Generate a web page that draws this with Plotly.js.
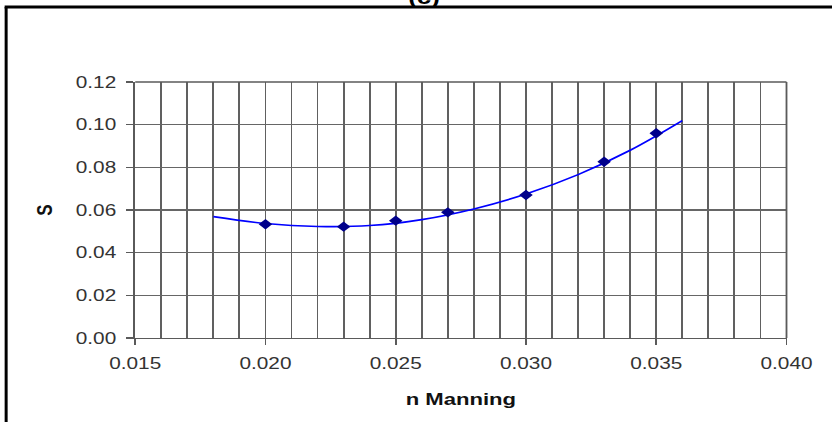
<!DOCTYPE html>
<html>
<head>
<meta charset="utf-8">
<script src="https://cdn.plot.ly/plotly-3.0.1.min.js"></script>
<style>
html,body{margin:0;padding:0;background:#fff;overflow:hidden;width:832px;height:422px;}
#chart{width:640px;height:422px;transform:scaleX(1.3);transform-origin:0 0;}
</style>
</head>
<body>
<div id="chart"></div>
<script>
// Observed data points
var nManning = [0.020, 0.023, 0.025, 0.027, 0.030, 0.033, 0.035];
var sValues  = [0.0533, 0.0522, 0.0550, 0.0589, 0.0670, 0.0826, 0.0960];
// Trendline
var trendX = [0.018, 0.020, 0.022, 0.024, 0.026, 0.028, 0.030, 0.032, 0.034, 0.036];
var trendY = [0.0569, 0.0537, 0.0523, 0.0527, 0.0555, 0.0605, 0.0675, 0.0766, 0.0880, 0.1019];
var xTickVals = [0.015, 0.020, 0.025, 0.030, 0.035, 0.040];
var xTickText = ['0.015', '0.020', '0.025', '0.030', '0.035', '0.040'];
var yTickVals = [0.00, 0.02, 0.04, 0.06, 0.08, 0.10, 0.12];
var yTickText = ['0.00', '0.02', '0.04', '0.06', '0.08', '0.10', '0.12'];

var S = 1.3;                       // horizontal stretch of the picture
var W = 640, H = 422;
var ml = 135 / S, mr = 46 / S, mt = 82, mb = 84;
var pw = W - ml - mr, ph = H - mt - mb;
function px(xFinal){ return (xFinal / S - ml) / pw; }
function py(y){ return (H - mb - y) / ph; }

var traces = [
  {x: trendX, y: trendY, mode: 'lines', line: {color: '#0000ff', width: 1.6, shape: 'spline'}, hoverinfo: 'skip'},
  {x: nManning, y: sValues, mode: 'markers', marker: {symbol: 'diamond', color: '#00008b', size: 8}}
];

var gridColor = '#5a5a5a';
var layout = {
  width: W, height: H,
  margin: {l: ml, r: mr, t: mt, b: mb, pad: 0},
  paper_bgcolor: '#ffffff', plot_bgcolor: '#ffffff',
  showlegend: false,
  font: {family: 'Liberation Sans, Arial, sans-serif', color: '#333', size: 16},
  xaxis: {
    range: [0.015, 0.040], tickvals: xTickVals, ticktext: xTickText,
    ticks: 'outside', ticklen: 6, tickcolor: gridColor, tickwidth: 1.4,
    ticklabelstandoff: 4,
    showgrid: false, zeroline: false,
    showline: true, linecolor: gridColor, linewidth: 1.4, mirror: false,
    minor: {dtick: 0.001, showgrid: true, gridcolor: '#606060', gridwidth: 1.4, ticks: ''},
    title: {text: '<b>n Manning</b>', font: {size: 17, color: '#111'}, standoff: 22},
    tickfont: {size: 16, color: '#333'}
  },
  yaxis: {
    range: [0, 0.12], tickvals: yTickVals, ticktext: yTickText,
    ticks: 'outside', ticklen: 6, tickcolor: gridColor, tickwidth: 1.4,
    ticklabelstandoff: 4,
    showgrid: true, gridcolor: '#666666', gridwidth: 1.5, zeroline: false,
    showline: true, linecolor: gridColor, linewidth: 1.4,
    title: {text: '<b>S</b>', font: {size: 17, color: '#111'}, standoff: 13},
    tickfont: {size: 16, color: '#333'}
  },
  annotations: [
    {text: '<b>(c)</b>', xref: 'paper', yref: 'paper', x: px(423), y: py(10), xanchor: 'center', yanchor: 'bottom',
     showarrow: false, font: {size: 20, color: '#000'}}
  ],
  shapes: [
    {type: 'line', xref: 'paper', yref: 'paper', x0: px(6), x1: px(6), y0: py(7), y1: py(440), line: {color: '#000', width: 2.3}},
    {type: 'line', xref: 'paper', yref: 'paper', x0: px(4.5), x1: px(850), y0: py(7), y1: py(7), line: {color: '#000', width: 3}},
    {type: 'line', xref: 'paper', yref: 'paper', x0: 1, x1: 1, y0: 0, y1: 1, line: {color: gridColor, width: 1.4}},
    {type: 'line', xref: 'paper', yref: 'paper', x0: 0, x1: 1, y0: 1, y1: 1, line: {color: gridColor, width: 1.5}}
  ]
};

Plotly.newPlot('chart', traces, layout, {displayModeBar: false, staticPlot: true});
</script>
</body>
</html>
